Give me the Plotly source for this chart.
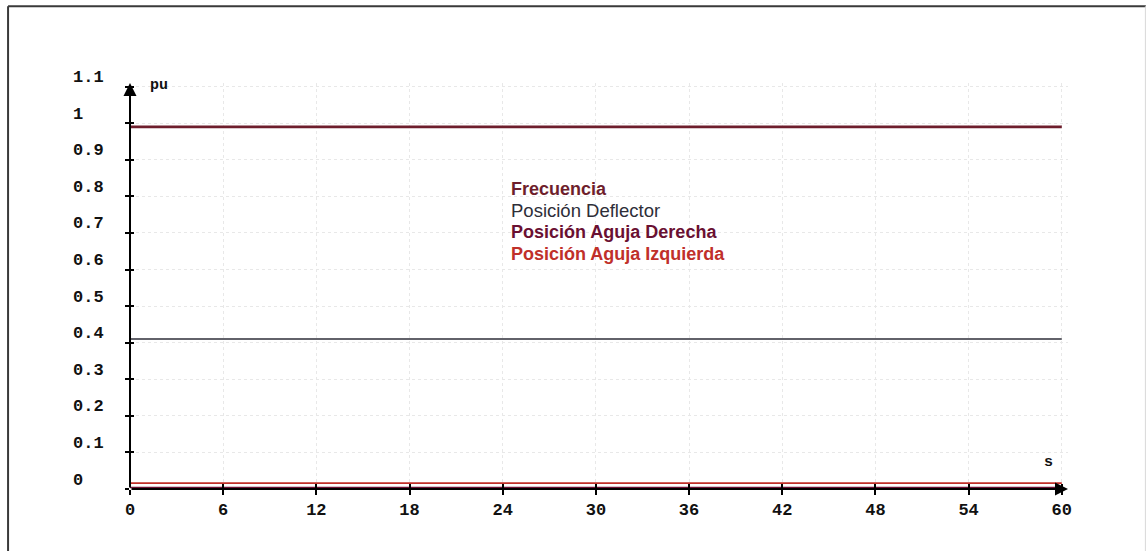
import plotly.graph_objects as go

# Time axis (s) and per-unit signals
time_s = [0, 60]
frecuencia = [0.99, 0.99]
posicion_deflector = [0.41, 0.41]
aguja_derecha = [0.004, 0.004]
aguja_izquierda = [0.016, 0.016]

series_names = ["Frecuencia", "Posición Deflector", "Posición Aguja Derecha", "Posición Aguja Izquierda"]
series_values = [frecuencia, posicion_deflector, aguja_derecha, aguja_izquierda]
series_colors = ["#6e1e2c", "#2e2e38", "#6a1032", "#c0302a"]
series_widths = [2.6, 1.6, 1.6, 1.6]
label_bold = [True, False, True, True]
label_size = [18, 18.5, 18, 18]

x_ticks = [0, 6, 12, 18, 24, 30, 36, 42, 48, 54, 60]
y_ticks = [0, 0.1, 0.2, 0.3, 0.4, 0.5, 0.6, 0.7, 0.8, 0.9, 1, 1.1]
y_tick_text = ["0", "0.1", "0.2", "0.3", "0.4", "0.5", "0.6", "0.7", "0.8", "0.9", "1", "1.1"]

mono = "Liberation Mono"
sans = "Liberation Sans"

fig = go.Figure()
# draw the bottom-most traces first so the frequency line stays on top
for i in [3, 2, 1, 0]:
    fig.add_trace(go.Scatter(
        x=time_s, y=series_values[i], mode="lines", name=series_names[i],
        line=dict(color=series_colors[i], width=series_widths[i]),
        showlegend=False, hoverinfo="skip",
    ))

grid = dict(showgrid=True, gridcolor="#e8e8e8", griddash="dot", gridwidth=1, zeroline=False)

fig.update_layout(
    width=1148, height=551,
    margin=dict(l=130, r=80, t=83, b=62),
    paper_bgcolor="white", plot_bgcolor="white",
    xaxis=dict(range=[0, 60.4], tickvals=x_ticks, ticktext=[str(v) for v in x_ticks],
               ticks="outside", ticklen=5, tickwidth=2, tickcolor="black",
               tickfont=dict(family=mono, size=17, color="#111", weight="bold"),
               showline=False, **grid),
    xaxis2=dict(range=[0, 60.4], overlaying="x", matches="x", tickvals=x_ticks,
                ticks="inside", ticklen=5, tickwidth=2, tickcolor="black",
                showticklabels=False, showgrid=False, zeroline=False, side="bottom"),
    yaxis=dict(range=[0, 1.11], tickvals=y_ticks, showticklabels=False,
               ticks="outside", ticklen=4, tickwidth=2, tickcolor="black",
               showline=False, **grid),
    yaxis2=dict(range=[0, 1.11], overlaying="y", matches="y", tickvals=y_ticks,
                ticks="inside", ticklen=4, tickwidth=2, tickcolor="black",
                showticklabels=False, showgrid=False, zeroline=False),
    showlegend=False,
)

# dummy trace so the overlay axes render their tick marks
fig.add_trace(go.Scatter(x=[None], y=[None], xaxis="x2", yaxis="y2", showlegend=False, hoverinfo="skip"))

annotations = []
# axis arrows
annotations.append(dict(xref="paper", yref="paper", x=0, y=1.0, ax=0, ay=406, axref="pixel",
                        ayref="pixel", showarrow=True, arrowhead=2, arrowsize=1.3, arrowwidth=2,
                        arrowcolor="black", text=""))
annotations.append(dict(xref="paper", yref="paper", x=1.0, y=0, ax=-938, ay=0, showarrow=True,
                        arrowhead=2, arrowsize=1.3, arrowwidth=2, arrowcolor="black", text=""))
# y tick labels, left aligned and raised above the ticks
for v, t in zip(y_ticks, y_tick_text):
    annotations.append(dict(xref="paper", yref="y", x=-0.063, y=v, yshift=9, xanchor="left",
                            yanchor="middle", text=t, showarrow=False,
                            font=dict(family=mono, size=17, color="#111", weight="bold")))
# axis unit labels
annotations.append(dict(xref="paper", yref="paper", x=0.0195, y=1.02, text="pu", showarrow=False,
                        font=dict(family=mono, size=15, color="#111", weight="bold")))
annotations.append(dict(xref="paper", yref="paper", x=0.986, y=0.04, text="s", showarrow=False,
                        font=dict(family=mono, size=15, color="#111", weight="bold")))
# series labels
label_y = [0.820, 0.762, 0.702, 0.642]
for name, col, bold, sz, yv in zip(series_names, series_colors, label_bold, label_size, label_y):
    annotations.append(dict(xref="x", yref="y", x=24.4, y=yv, xanchor="left", yanchor="middle",
                            text=name, showarrow=False,
                            font=dict(family=sans, size=sz, color=col,
                                      weight="bold" if bold else "normal")))
fig.update_layout(annotations=annotations)

# surrounding frame
fig.add_shape(type="line", xref="paper", yref="paper", x0=-0.130, x1=1.083, y0=1.189, y1=1.189,
              line=dict(color="#3a3a3a", width=2))
fig.add_shape(type="line", xref="paper", yref="paper", x0=-0.130, x1=-0.130, y0=1.189, y1=-0.3,
              line=dict(color="#3a3a3a", width=2))
fig.add_shape(type="line", xref="paper", yref="paper", x0=1.0825, x1=1.0825, y0=1.189, y1=-0.3,
              line=dict(color="#d8d8d8", width=1))

fig.write_html("out.html")
